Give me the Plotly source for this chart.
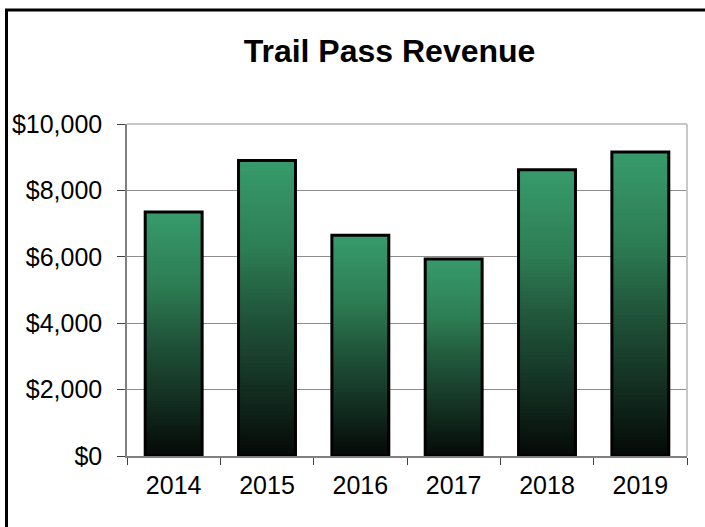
import plotly.graph_objects as go
from plotly.colors import sample_colorscale

years = ["2014", "2015", "2016", "2017", "2018", "2019"]
revenue = [7350, 8900, 6650, 5930, 8620, 9160]
y_ticks = [0, 2000, 4000, 6000, 8000, 10000]
y_tick_labels = [f"${v:,}" for v in y_ticks]

# vertical gradient inside each bar, 0 = bottom of bar, 1 = top
BAR_GRADIENT = [
    [0.0, "#050907"],
    [0.25, "#143224"],
    [0.5, "#22593d"],
    [0.7, "#2d7d54"],
    [1.0, "#389b6b"],
]
N_SLICES = 80
BAR_WIDTH = 0.61

fig = go.Figure()

# painter's trick: full bar first, then shorter & darker bars drawn over it
for k in range(N_SLICES):
    frac = (N_SLICES - k) / N_SLICES
    color = sample_colorscale(BAR_GRADIENT, [(N_SLICES - k - 0.5) / N_SLICES])[0]
    fig.add_trace(go.Bar(
        x=years,
        y=[v * frac for v in revenue],
        width=BAR_WIDTH,
        marker=dict(color=color, line=dict(width=0)),
        hoverinfo="skip",
        showlegend=False,
    ))

# black outline on top
fig.add_trace(go.Bar(
    x=years,
    y=revenue,
    width=BAR_WIDTH,
    marker=dict(color="rgba(0,0,0,0)", line=dict(color="black", width=3)),
    showlegend=False,
    name="Revenue",
))

fig.update_layout(
    width=705,
    height=527,
    barmode="overlay",
    margin=dict(l=127, r=18, t=124, b=71),
    paper_bgcolor="white",
    plot_bgcolor="white",
    font=dict(family="Liberation Sans, Arial, sans-serif", size=25, color="black"),
    title=dict(
        text="<b>Trail Pass Revenue</b>",
        font=dict(size=32, color="black"),
        x=389.5 / 705, xanchor="center",
        y=1 - 51 / 527, yanchor="middle",
    ),
    shapes=[
        # light grey frame, top and right of the plot area
        dict(type="line", xref="paper", yref="paper", x0=0, x1=1, y0=1, y1=1,
             line=dict(color="#c8c8c8", width=2), layer="above"),
        dict(type="line", xref="paper", yref="paper", x0=1, x1=1, y0=0, y1=1,
             line=dict(color="#c8c8c8", width=2), layer="above"),
        # outer chart border (cut off at right/bottom)
        dict(type="rect", xref="paper", yref="paper",
             x0=(6.5 - 127) / 560, x1=2, y0=-1, y1=1 + (124 - 10) / 332,
             line=dict(color="black", width=3)),
    ],
)

fig.update_xaxes(
    type="category",
    range=[-0.5, 5.5],
    tickson="boundaries",
    ticks="outside",
    ticklen=7,
    tickwidth=1,
    tickcolor="#404040",
    ticklabelstandoff=6,
    showline=True,
    linecolor="#808080",
    linewidth=1.5,
    showgrid=False,
)

fig.update_yaxes(
    range=[0, 10000],
    tickmode="array",
    tickvals=y_ticks,
    ticktext=y_tick_labels,
    ticks="outside",
    ticklen=8,
    tickwidth=1,
    tickcolor="#404040",
    ticklabelstandoff=10,
    showline=True,
    linecolor="#808080",
    linewidth=1.5,
    showgrid=True,
    gridcolor="#8c8c8c",
    gridwidth=1,
    zeroline=False,
)

# drop the browser's default 8px body margin so the figure sits at 0,0
fig.write_html(
    "out.html",
    config={"displayModeBar": False},
    post_script="document.body.style.margin='0';",
)
